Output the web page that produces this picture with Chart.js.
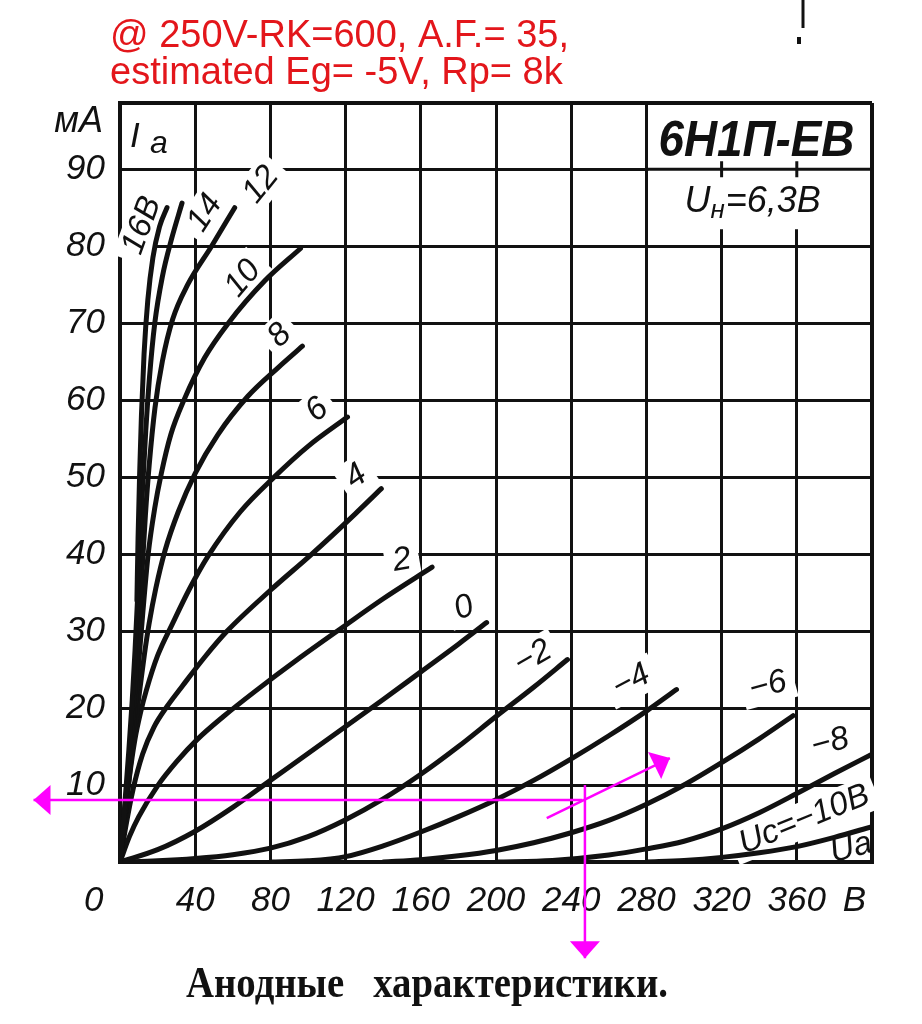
<!DOCTYPE html>
<html>
<head>
<meta charset="utf-8">
<script src="https://cdn.jsdelivr.net/npm/chart.js@4.4.1/dist/chart.umd.min.js"></script>
<style>
  html, body { margin: 0; padding: 0; background: #fff; }
</style>
</head>
<body>
<canvas id="myChart" width="922" height="1024"></canvas>
<script>
// 6Н1П-ЕВ anode curves, [Ua (V), Ia (mA)]
const gridVoltages = [16, 14, 12, 10, 8, 6, 4, 2, 0, -2, -4, -6, -8, -10];

const ug16 = [[9,34],[9.6,42],[10.4,50],[11.4,58],[12.8,66],[14.8,73],[17.5,78.5],[21,82.5],[25,85]];
const ug14 = [[0,0],[2.4,7],[4.7,14.5],[6.5,21],[8,27.5],[9.3,34],[10.6,41],[12,48.5],[13.7,56],[15.7,63],[18.5,70],[22.5,76],[27.5,81],[33,85.6]];
const ug12 = [[0,0],[2.5,6.5],[5,13.5],[7,19.5],[8.7,25],[10.2,31],[11.8,38],[13.5,45],[15.5,51.5],[18.6,59],[22.5,65],[28,70.5],[36,75],[48.7,80],[61,85]];
const ug10 = [[0,0],[3,7],[6,14.5],[8.2,20.5],[10,26],[12,32],[15,40],[18.5,46],[22,50.5],[27,55.5],[34,60],[45,65.5],[57.6,70],[77,75.5],[96,79.7]];
const ug8 = [[0,0],[3,6.5],[6,13.5],[8.5,18.5],[10.6,22.5],[13,27],[15.5,31],[19,35.5],[24,40.5],[31,45.5],[40,50.5],[52,55.5],[68,60.5],[84,64.2],[97,67]];
const ug6 = [[0,0],[2.5,5.5],[5,11],[8,16],[11,19.5],[14,22.3],[20,26.8],[28,31],[37,35.5],[47,39.8],[64,45.5],[82,50],[100,54],[121,57.8]];
const ug4 = [[0,0],[3,4.5],[7,9.5],[12,14],[18,17.5],[25,20.2],[33,22.8],[45,26.6],[57,30],[80,35.3],[102,40],[125,45.2],[139,48.5]];
const ug2 = [[0,0],[5,3.3],[10,5.9],[20,9.9],[30,13],[41,15.9],[55,18.9],[72,22.2],[96,26.6],[119,30.6],[140,34.2],[166,38.3]];
const ug0 = [[0,0],[20,1.6],[40,4],[60,7.1],[80,10.6],[100,14.1],[120,17.6],[140,21.1],[160,24.7],[180,28.3],[195,31.1]];
const ugm2 = [[0,0],[20,0.15],[40,0.45],[60,0.95],[80,1.8],[100,3.3],[120,5.5],[140,8.2],[160,11.4],[180,15],[200,18.9],[220,22.7],[238,26.3]];
const ugm4 = [[80,0],[100,0.15],[120,0.7],[140,2.1],[160,3.9],[180,5.9],[200,8.1],[220,10.6],[240,13.4],[260,16.4],[280,19.6],[296,22.4]];
const ugm6 = [[140,0],[160,0.3],[180,0.8],[200,1.5],[220,2.5],[240,3.8],[260,5.4],[280,7.5],[300,10],[320,12.9],[340,16],[358,19]];
const ugm8 = [[200,0],[230,0.2],[260,0.9],[280,1.7],[300,2.7],[320,4.3],[340,6.4],[360,8.9],[380,11.5],[400,14]];
const ugm10 = [[280,0],[300,0.2],[320,0.6],[340,1.2],[360,2],[380,3.2],[400,4.6]];

const curves = [ug16, ug14, ug12, ug10, ug8, ug6, ug4, ug2, ug0, ugm2, ugm4, ugm6, ugm8, ugm10];

// magenta construction drawn on top of the scan
const arrowLeft = [[246, 8.05], [-46, 8.05]];
const arrowDown = [[247.3, 10], [247.3, -12.5]];
const loadLine = [[227, 5.7], [292.5, 13.5]];

const xTicks = [0, 40, 80, 120, 160, 200, 240, 280, 320, 360, 400];
const xTickLabels = ['0', '40', '80', '120', '160', '200', '240', '280', '320', '360', 'В'];
const yTicks = [10, 20, 30, 40, 50, 60, 70, 80, 90];
const yTickLabels = ['10', '20', '30', '40', '50', '60', '70', '80', '90'];

const curveLabels = [
  {text: '16В', v: 11.7, i: 82.7, rot: -70},
  {text: '14', v: 45.2, i: 84.3, rot: -57},
  {text: '12', v: 75, i: 88, rot: -51},
  {text: '10', v: 65.4, i: 75.8, rot: -50},
  {text: '8', v: 85, i: 68.4, rot: -45},
  {text: '6', v: 104.8, i: 58.7, rot: -40},
  {text: '4', v: 125.5, i: 50.1, rot: -35},
  {text: '2', v: 150, i: 39.2, rot: -10},
  {text: '0', v: 183, i: 33, rot: -20},
  {text: '−2', v: 219.7, i: 26.6, rot: -30},
  {text: '−4', v: 272, i: 23.5, rot: -28},
  {text: '−6', v: 344.7, i: 22.9, rot: -15},
  {text: '−8', v: 377.7, i: 15.5, rot: -15},
  {text: 'Uс=−10В', v: 364, i: 5.5, rot: -22},
  {text: 'Uа', v: 389, i: 1.8, rot: -15, noBg: true}
];

const INK = '#111';
const PINK = '#ff00ff';
const labelFont = 'italic 33px "Liberation Sans"';

const toXY = pts => pts.map(p => ({x: p[0], y: p[1]}));

const datasets = gridVoltages.map((ug, k) => ({
  label: 'Uc = ' + ug + ' В',
  data: toXY(curves[k]),
  borderColor: INK,
  borderWidth: 5,
  borderCapStyle: 'round',
  borderJoinStyle: 'round',
  pointRadius: 0,
  cubicInterpolationMode: 'monotone',
  fill: false
}));

[arrowLeft, arrowDown, loadLine].forEach((pts, k) => {
  datasets.push({
    label: 'arrow' + k,
    data: toXY(pts),
    borderColor: PINK,
    borderWidth: 2.5,
    pointRadius: 0,
    tension: 0,
    clip: false,
    order: -1,
    arrow: true
  });
});

function fitText(ctx, text, x, y, width) {
  const w = ctx.measureText(text).width;
  ctx.save();
  ctx.translate(x, y);
  ctx.scale(width / w, 1);
  ctx.fillText(text, 0, 0);
  ctx.restore();
}

const sheetText = {
  id: 'sheetText',
  beforeDatasetsDraw(chart) {
    const {ctx, chartArea: a, scales: {x, y}} = chart;
    ctx.save();
    ctx.fillStyle = '#fff';
    // type box in the top right corner
    const bx = x.getPixelForValue(280);
    const by = y.getPixelForValue(82.2);
    ctx.fillRect(bx + 2, a.top + 2, a.right - bx - 4, by - a.top - 2);
    ctx.strokeStyle = INK;
    ctx.lineWidth = 3;
    const y90 = y.getPixelForValue(90);
    ctx.beginPath();
    ctx.moveTo(bx, y90); ctx.lineTo(a.right, y90);
    [320, 360].forEach(v => {
      const px = x.getPixelForValue(v);
      ctx.moveTo(px, y90 - 8); ctx.lineTo(px, y90 + 8);
    });
    ctx.stroke();
    // white gaps in the grid behind the curve labels
    ctx.font = labelFont;
    curveLabels.forEach(l => {
      if (l.noBg) return;
      const w = ctx.measureText(l.text).width;
      ctx.save();
      ctx.translate(x.getPixelForValue(l.v), y.getPixelForValue(l.i));
      ctx.rotate(l.rot * Math.PI / 180);
      ctx.fillRect(-w / 2 - 8, -18, w + 16, 36);
      ctx.restore();
    });
    ctx.restore();
  },
  afterDatasetsDraw(chart) {
    const {ctx, scales: {x, y}} = chart;
    ctx.save();
    ctx.fillStyle = INK;
    ctx.font = labelFont;
    ctx.textAlign = 'center';
    ctx.textBaseline = 'middle';
    curveLabels.forEach(l => {
      ctx.save();
      ctx.translate(x.getPixelForValue(l.v), y.getPixelForValue(l.i));
      ctx.rotate(l.rot * Math.PI / 180);
      ctx.fillText(l.text, 0, 0);
      ctx.restore();
    });
    // arrow heads
    ctx.fillStyle = PINK;
    chart.data.datasets.forEach((ds, i) => {
      if (!ds.arrow) return;
      const pts = chart.getDatasetMeta(i).data;
      const p0 = pts[pts.length - 2], p1 = pts[pts.length - 1];
      const ang = Math.atan2(p1.y - p0.y, p1.x - p0.x);
      ctx.save();
      ctx.translate(p1.x, p1.y);
      ctx.rotate(ang);
      ctx.beginPath();
      ctx.moveTo(0, 0);
      ctx.lineTo(-17, -15);
      ctx.lineTo(-17, 15);
      ctx.closePath();
      ctx.fill();
      ctx.restore();
    });
    ctx.restore();
  },
  afterDraw(chart) {
    const {ctx, chartArea: a, scales: {x, y}} = chart;
    ctx.save();
    ctx.textBaseline = 'alphabetic';
    ctx.textAlign = 'left';

    // red note
    ctx.fillStyle = '#e3161b';
    ctx.font = '38px "Liberation Sans"';
    ctx.fillText('@ 250V-RK=600, A.F.= 35,', 110, 47);
    ctx.fillText('estimated Eg= -5V, Rp= 8k', 110, 84);

    ctx.fillStyle = INK;
    ctx.strokeStyle = INK;
    // scan marks at the top edge
    ctx.lineWidth = 3;
    ctx.beginPath();
    ctx.moveTo(803, 0); ctx.lineTo(803, 28);
    ctx.stroke();
    ctx.fillRect(797, 37, 4, 7);

    // axis unit and quantity
    ctx.font = 'italic 36px "Liberation Sans"';
    ctx.textAlign = 'right';
    ctx.fillText('мА', 103, 132);
    ctx.textAlign = 'left';
    ctx.font = 'italic 35px "Liberation Sans"';
    ctx.fillText('I', 130, 147);
    ctx.font = 'italic 32px "Liberation Sans"';
    ctx.fillText('а', 150, 153);

    // tube type
    const bx = x.getPixelForValue(280);
    ctx.font = 'bold italic 50px "Liberation Sans"';
    fitText(ctx, '6Н1П-ЕВ', bx + 12, y.getPixelForValue(90) - 13, 196);
    ctx.font = 'italic 36px "Liberation Sans"';
    let tx = bx + 38;
    const tb = y.getPixelForValue(82.2) - 17;
    ctx.fillText('U', tx, tb);
    tx += ctx.measureText('U').width;
    ctx.font = 'italic 26px "Liberation Sans"';
    ctx.fillText('н', tx, tb + 6);
    tx += ctx.measureText('н').width + 1;
    ctx.font = 'italic 36px "Liberation Sans"';
    ctx.fillText('=6,3В', tx, tb);

    // caption
    ctx.font = 'bold 44px "Liberation Serif"';
    fitText(ctx, 'Анодные   характеристики.', 186, 997, 482);
    ctx.restore();
  }
};

const tickFont = {family: 'Liberation Sans', size: 35, style: 'italic'};

const ctx = document.getElementById('myChart').getContext('2d');
const myChart = new Chart(ctx, {
  type: 'line',
  data: {datasets: datasets},
  options: {
    responsive: false,
    animation: false,
    events: [],
    layout: {padding: {top: 103, right: 50, left: 0, bottom: 0}},
    plugins: {legend: {display: false}, tooltip: {enabled: false}},
    scales: {
      x: {
        type: 'linear',
        min: 0,
        max: 400,
        afterFit: s => { s.height = 162; },
        afterBuildTicks: s => { s.ticks = xTicks.map(v => ({value: v})); },
        grid: {color: INK, lineWidth: c => (c.tick && c.tick.value === 400 ? 4 : 3), drawTicks: false},
        border: {color: INK, width: 4},
        ticks: {
          autoSkip: false,
          maxRotation: 0,
          padding: 18,
          color: INK,
          font: tickFont,
          callback: v => {
            const s = xTickLabels[xTicks.indexOf(v)];
            if (v === 0) return s + '\u2003\u2002';
            if (v === 400) return s + '\u2003';
            return s;
          }
        }
      },
      y: {
        type: 'linear',
        min: 0,
        max: 98.6,
        afterFit: s => { s.width = 120; },
        afterBuildTicks: s => { s.ticks = [0].concat(yTicks, [98.6]).map(v => ({value: v})); },
        grid: {color: INK, lineWidth: c => (c.tick && c.tick.value > 95 ? 4 : 3), drawTicks: false},
        border: {color: INK, width: 4},
        ticks: {
          autoSkip: false,
          padding: 15,
          color: INK,
          font: tickFont,
          callback: v => {
            const k = yTicks.indexOf(v);
            return k < 0 ? '' : yTickLabels[k];
          }
        }
      }
    }
  },
  plugins: [sheetText]
});
</script>
</body>
</html>
